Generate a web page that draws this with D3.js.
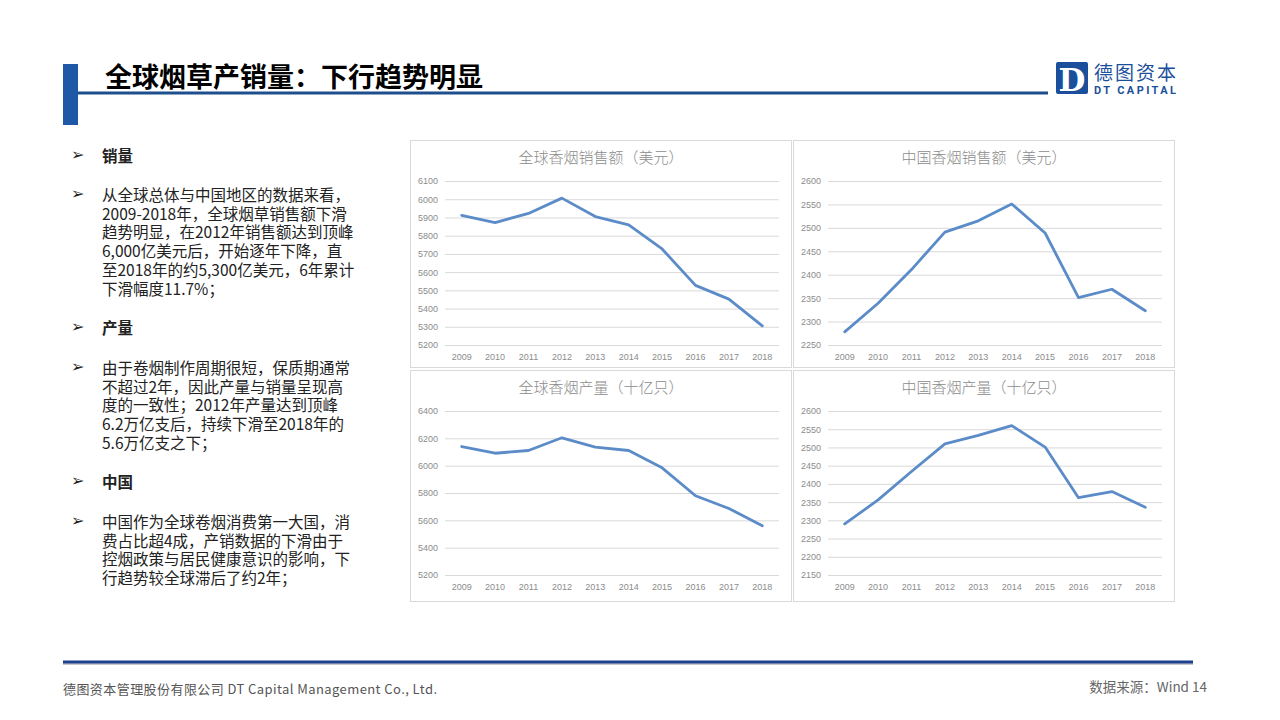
<!DOCTYPE html>
<html>
<head>
<meta charset="utf-8">
<script src="https://cdn.jsdelivr.net/npm/d3@7"></script>
<style>
  body { margin: 0; background: #fff; }
  #wrap { position: relative; width: 1280px; height: 720px; }
  svg { display: block; font-family: "Noto Sans CJK SC", "Noto Sans", sans-serif; }
  .blk { position: absolute; left: 102px; font-family: "Noto Sans CJK SC", sans-serif;
         font-size: 15.5px; line-height: 18.7px; color: #222; white-space: nowrap; }
  .blk.head { font-weight: 700; }
  .bul { position: absolute; left: 71px; font-family: "DejaVu Sans", sans-serif;
         font-size: 16px; line-height: 18.7px; color: #222; }
</style>
</head>
<body>
<div id="wrap">
<svg id="page" width="1280" height="720"></svg>
</div>
<script>
// 数据
const years = ["2009", "2010", "2011", "2012", "2013", "2014", "2015", "2016", "2017", "2018"];
const globalSales = [5911, 5872, 5922, 6006, 5905, 5859, 5727, 5527, 5452, 5305];
const chinaSales = [2278, 2339, 2411, 2491, 2515, 2551, 2489, 2351, 2369, 2323];
const globalOutput = [6140, 6091, 6111, 6204, 6136, 6111, 5984, 5780, 5687, 5560];
const chinaOutput = [2290, 2356, 2434, 2510, 2533, 2560, 2501, 2362, 2379, 2336];

const chartTitles = ["全球香烟销售额（美元）", "中国香烟销售额（美元）", "全球香烟产量（十亿只）", "中国香烟产量（十亿只）"];
const yTicks1 = [5200, 5300, 5400, 5500, 5600, 5700, 5800, 5900, 6000, 6100];
const yTicks2 = [2250, 2300, 2350, 2400, 2450, 2500, 2550, 2600];
const yTicks3 = [5200, 5400, 5600, 5800, 6000, 6200, 6400];
const yTicks4 = [2150, 2200, 2250, 2300, 2350, 2400, 2450, 2500, 2550, 2600];

const svg = d3.select("#page");
const wrap = d3.select("#wrap");

// 页眉
svg.append("rect").attr("x", 63).attr("y", 64).attr("width", 15).attr("height", 61).attr("fill", "#1f58a6");
svg.append("line").attr("x1", 78).attr("x2", 1048).attr("y1", 93).attr("y2", 93)
  .attr("stroke", "#1f4e8c").attr("stroke-width", 3);
svg.append("text").attr("x", 105).attr("y", 87)
  .attr("font-size", 27).attr("font-weight", 700).attr("fill", "#000")
  .text("全球烟草产销量：下行趋势明显");

// logo
svg.append("rect").attr("x", 1056).attr("y", 62).attr("width", 32).attr("height", 32).attr("rx", 2).attr("fill", "#1b4f9c");
svg.append("text").attr("x", 1072).attr("y", 91).attr("text-anchor", "middle")
  .attr("font-family", "DejaVu Serif, serif").attr("font-weight", 700).attr("font-size", 31)
  .attr("fill", "#fff").text("D");
svg.append("text").attr("x", 1094).attr("y", 80).attr("font-size", 19).attr("fill", "#1b4f9c")
  .attr("textLength", 82).text("德图资本");
svg.append("text").attr("x", 1094).attr("y", 94).attr("font-size", 11).attr("font-weight", 700)
  .attr("fill", "#1b4f9c").attr("font-family", "Roboto, sans-serif").attr("textLength", 82).text("DT CAPITAL");

// 左侧文字 (top = 首行顶端)
const leftBlocks = [
  { head: true, top: 146, lines: ["销量"] },
  { head: false, top: 185, lines: ["从全球总体与中国地区的数据来看，", "2009-2018年，全球烟草销售额下滑", "趋势明显，在2012年销售额达到顶峰", "6,000亿美元后，开始逐年下降，直", "至2018年的约5,300亿美元，6年累计", "下滑幅度11.7%；"] },
  { head: true, top: 318, lines: ["产量"] },
  { head: false, top: 358, lines: ["由于卷烟制作周期很短，保质期通常", "不超过2年，因此产量与销量呈现高", "度的一致性；2012年产量达到顶峰", "6.2万亿支后，持续下滑至2018年的", "5.6万亿支之下；"] },
  { head: true, top: 472, lines: ["中国"] },
  { head: false, top: 512, lines: ["中国作为全球卷烟消费第一大国，消", "费占比超4成，产销数据的下滑由于", "控烟政策与居民健康意识的影响，下", "行趋势较全球滞后了约2年；"] }
];
leftBlocks.forEach(b => {
  wrap.append("div").attr("class", "bul").style("top", b.top + "px").text("➢");
  wrap.append("div").attr("class", b.head ? "blk head" : "blk").style("top", b.top + "px")
    .html(b.lines.join("<br>"));
});

// 图表
const panels = [
  { x: 410, y: 140, w: 382, h: 228, values: globalSales, ticks: yTicks1, title: chartTitles[0] },
  { x: 793, y: 140, w: 382, h: 228, values: chinaSales, ticks: yTicks2, title: chartTitles[1] },
  { x: 410, y: 370, w: 382, h: 232, values: globalOutput, ticks: yTicks3, title: chartTitles[2] },
  { x: 793, y: 370, w: 382, h: 232, values: chinaOutput, ticks: yTicks4, title: chartTitles[3] }
];

panels.forEach(p => {
  const g = svg.append("g").attr("transform", `translate(${p.x},${p.y})`);
  g.append("rect").attr("x", 0.5).attr("y", 0.5).attr("width", p.w - 1).attr("height", p.h - 1)
    .attr("fill", "#fff").attr("stroke", "#d9d9d9");

  const m = { left: 35, right: 13, top: 41, bottom: p.h - 205 };
  const iw = p.w - m.left - m.right;
  const ih = p.h - m.top - m.bottom;

  g.append("text").attr("x", p.w / 2).attr("y", 23).attr("text-anchor", "middle")
    .attr("font-size", 15).attr("fill", "#8c8c8c").attr("font-weight", 300).text(p.title);

  const plot = g.append("g").attr("transform", `translate(${m.left},${m.top})`);
  const x = d3.scaleBand().domain(years).range([0, iw]);
  const y = d3.scaleLinear().domain(d3.extent(p.ticks)).range([ih, 0]);

  const yAxis = plot.append("g")
    .call(d3.axisLeft(y).tickValues(p.ticks).tickSize(-iw).tickPadding(7).tickFormat(d3.format("d")));
  yAxis.select(".domain").remove();
  yAxis.selectAll("line").attr("stroke", "#d9d9d9");
  yAxis.selectAll("text").attr("fill", "#8c8c8c").attr("font-size", 9).attr("font-family", "Liberation Sans, sans-serif");

  const xAxis = plot.append("g").attr("transform", `translate(0,${ih})`)
    .call(d3.axisBottom(x).tickSize(0).tickPadding(9));
  xAxis.select(".domain").remove();
  xAxis.selectAll("text").attr("fill", "#8c8c8c").attr("font-size", 9).attr("font-family", "Liberation Sans, sans-serif");

  const line = d3.line().x((d, i) => x(years[i]) + x.bandwidth() / 2).y(d => y(d));
  plot.append("path").datum(p.values).attr("d", line)
    .attr("fill", "none").attr("stroke", "#5b8cc8").attr("stroke-width", 2.8)
    .attr("stroke-linejoin", "round").attr("stroke-linecap", "round");
});

// 页脚
svg.append("line").attr("x1", 63).attr("x2", 1193).attr("y1", 664).attr("y2", 664)
  .attr("stroke", "#c8c8c8").attr("stroke-width", 2);
svg.append("line").attr("x1", 63).attr("x2", 1193).attr("y1", 662).attr("y2", 662)
  .attr("stroke", "#1f3f8f").attr("stroke-width", 3);
svg.append("text").attr("x", 63).attr("y", 694).attr("font-size", 13).attr("fill", "#555")
  .attr("textLength", 374).text("德图资本管理股份有限公司  DT Capital Management  Co., Ltd.");
svg.append("text").attr("x", 1207).attr("y", 692).attr("text-anchor", "end").attr("font-size", 13.5).attr("fill", "#666")
  .text("数据来源：Wind  14");
</script>
</body>
</html>
